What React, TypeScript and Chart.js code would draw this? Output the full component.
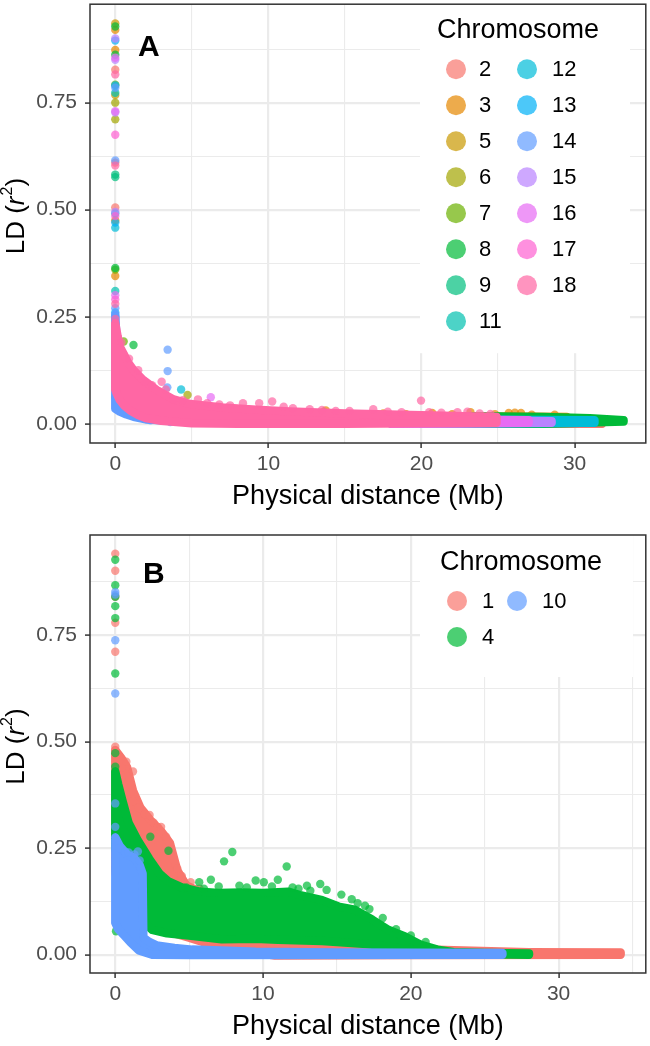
import React, { useEffect, useRef } from "react";
import { Chart, registerables } from "chart.js";
Chart.register(...registerables);

const FONT = "'Liberation Sans', Arial, Helvetica, sans-serif";
type Pt = [number, number];

// ---------------- Panel A ----------------
const A_LABELS = ["2", "3", "5", "6", "7", "8", "9", "11", "12", "13", "14", "15", "16", "17", "18"];
const A_COLORS = ["#F8766D", "#E58700", "#C99800", "#A3A500", "#6BB100", "#00BA38", "#00BF7D", "#00C0AF", "#00BCD8", "#00B0F6", "#619CFF", "#B983FF", "#E76BF3", "#FD61D1", "#FF67A4"];
const A_X_TICKS = [0, 5, 10, 15, 20, 25, 30];
const A_Y_TICKS = [0, 0.125, 0.25, 0.375, 0.5, 0.625, 0.75, 0.875];

const aPts2: Pt[] = [[0, 0.827], [0, 0.61], [0, 0.505]];
const aPts3: Pt[] = [[0, 0.92], [0, 0.873], [0, 0.475], [0, 0.345], [13.75, 0.031], [17.5, 0.024], [19.0, 0.022], [20.7, 0.025], [22.0, 0.022], [23.2, 0.027], [24.8, 0.022], [25.7, 0.025], [26.1, 0.026], [26.5, 0.025], [27.2, 0.021], [28.7, 0.021]];
const aPts5: Pt[] = [[0, 0.935], [0, 0.768], [13.6, 0.028]];
const aPts6: Pt[] = [[0, 0.75], [0, 0.711], [0, 0.062], [4.72, 0.067]];
const aPts7: Pt[] = [[0, 0.792], [0, 0.36], [0.55, 0.192]];
const aPts8: Pt[] = [[0, 0.928], [0, 0.862], [0, 0.364], [1.19, 0.184]];
const aPts9: Pt[] = [[0, 0.576], [0, 0.582]];
const aPts11: Pt[] = [[0, 0.773], [0, 0.31]];
const aPts12: Pt[] = [[0, 0.491], [0, 0.458], [4.3, 0.08]];
const aPts13: Pt[] = [[0, 0.895], [0, 0.79], [0, 0.47], [0, 0.26], [5.6, 0.003], [7.4, 0.002], [8.6, 0.002]];
const aPts14: Pt[] = [[0, 0.785], [0, 0.615], [0, 0.27], [0, 0.25], [3.42, 0.173], [3.42, 0.123], [3.4, 0.085], [2.3, 0.008], [3.6, 0.004]];
const aPts15: Pt[] = [[0, 0.9], [0, 0.85], [0, 0.727], [0, 0.495]];
const aPts16: Pt[] = [[0, 0.855], [0, 0.73], [0, 0.3], [6.24, 0.062]];
const aPts17: Pt[] = [[0, 0.675], [0, 0.485], [0, 0.29]];
const aPts18: Pt[] = [[0, 0.816], [0, 0.603], [0, 0.28], [0, 0.245], [0.4, 0.19], [0.9, 0.152], [1.5, 0.125], [1.95, 0.098], [2.4, 0.09], [3.03, 0.098], [3.3, 0.08], [3.8, 0.056], [4.4, 0.055], [5.4, 0.057], [6.0, 0.048], [6.8, 0.045], [7.5, 0.043], [8.34, 0.048], [9.4, 0.048], [10.25, 0.052], [11.0, 0.04], [11.6, 0.036], [12.7, 0.034], [13.5, 0.032], [14.4, 0.03], [15.3, 0.03], [16.85, 0.034], [17.8, 0.028], [18.7, 0.027], [19.97, 0.054], [20.5, 0.027], [21.3, 0.026], [22.35, 0.027], [23.0, 0.028], [23.8, 0.024], [24.5, 0.023]];

// dense clouds: outline of the saturated area (upper edge, then lower edge back)
const aCloud2: Pt[] = [[24, 0.006], [31.8, 0.004], [31.8, 0.0], [24, 0.0], [24, 0.006]];
const aCloud3: Pt[] = [[18, 0.018], [29.5, 0.016], [29.5, 0.004], [18, 0.004], [18, 0.018]];
const aCloud8: Pt[] = [[20, 0.016], [25, 0.017], [28, 0.016], [31, 0.013], [33.2, 0.008], [33.2, 0.005], [28, 0.0], [20, 0.0], [20, 0.016]];
const aCloud12: Pt[] = [[20, 0.01], [31.3, 0.008], [31.3, 0.002], [20, 0.0], [20, 0.01]];
const aCloud14: Pt[] = [[0, 0.255], [0.15, 0.15], [0.4, 0.09], [0.8, 0.06], [1.5, 0.045], [3, 0.025], [6, 0.01], [6, 0.004], [3, 0.008], [2, 0.01], [1.2, 0.016], [0.7, 0.022], [0.3, 0.028], [0, 0.035], [0, 0.255]];
const aCloud15: Pt[] = [[18, 0.01], [28.5, 0.006], [28.5, 0.002], [18, 0.0], [18, 0.01]];
const aCloud16: Pt[] = [[18, 0.011], [27, 0.008], [27, 0.002], [18, 0.0], [18, 0.011]];
const aCloud18: Pt[] = [[0, 0.235], [0.15, 0.205], [0.3, 0.18], [0.55, 0.163], [0.8, 0.145], [1.2, 0.125], [1.8, 0.103], [2.7, 0.079], [3.8, 0.057], [4.9, 0.046], [7.0, 0.038], [9.2, 0.033], [11.4, 0.029], [15, 0.024], [20, 0.02], [24.9, 0.016], [24.9, 0.002], [15, 0.0], [8, 0.0], [5, 0.001], [3, 0.007], [2, 0.013], [1.5, 0.02], [1.0, 0.03], [0.6, 0.042], [0.3, 0.055], [0.1, 0.07], [0, 0.08], [0, 0.235]];

const A_POINTS = [aPts2, aPts3, aPts5, aPts6, aPts7, aPts8, aPts9, aPts11, aPts12, aPts13, aPts14, aPts15, aPts16, aPts17, aPts18];
const A_CLOUDS = [aCloud2, aCloud3, null, null, null, aCloud8, null, null, aCloud12, null, aCloud14, aCloud15, aCloud16, null, aCloud18];

// ---------------- Panel B ----------------
const B_LABELS = ["1", "4", "10"];
const B_COLORS = ["#F8766D", "#00BA38", "#619CFF"];
const B_X_TICKS = [0, 5, 10, 15, 20, 25, 30, 35];
const B_Y_TICKS = [0, 0.125, 0.25, 0.375, 0.5, 0.625, 0.75, 0.875];

const bPts1: Pt[] = [[0, 0.941], [0, 0.901], [0, 0.84], [0, 0.779], [0, 0.711], [0, 0.488], [0, 0.48], [0.42, 0.44], [0.75, 0.453], [1.2, 0.43], [1.2, 0.36], [1.6, 0.345], [2.0, 0.33], [2.32, 0.328], [2.6, 0.31], [2.88, 0.3], [3.1, 0.3], [3.44, 0.277], [3.7, 0.26], [4.2, 0.202], [4.5, 0.185], [5.1, 0.17], [5.7, 0.155], [6.5, 0.028], [8.0, 0.024], [9.2, 0.026], [10.5, 0.022], [11.5, 0.02]];
const bPts4: Pt[] = [[0, 0.927], [0, 0.867], [0, 0.84], [0, 0.818], [0, 0.79], [0, 0.66], [0, 0.473], [0, 0.441], [0.05, 0.055], [2.37, 0.277], [3.6, 0.244], [4.8, 0.158], [5.68, 0.17], [6.0, 0.155], [6.47, 0.176], [7.0, 0.16], [7.36, 0.219], [7.92, 0.241], [8.4, 0.162], [8.9, 0.158], [9.5, 0.174], [10.05, 0.17], [10.6, 0.16], [11.0, 0.176], [11.6, 0.207], [12.0, 0.158], [12.4, 0.155], [12.97, 0.162], [13.2, 0.15], [13.87, 0.166], [14.3, 0.152], [15.3, 0.141], [16.0, 0.13], [16.4, 0.121], [16.9, 0.115], [17.2, 0.107], [18.1, 0.086], [19.0, 0.06], [20.0, 0.045], [21.0, 0.03]];
const bPts10: Pt[] = [[0, 0.851], [0, 0.845], [0, 0.738], [0, 0.613], [0, 0.355], [0, 0.3], [0.3, 0.25], [0.69, 0.241], [0.9, 0.24], [1.3, 0.235], [1.53, 0.242], [1.65, 0.221]];

const bCloud1: Pt[] = [[0, 0.48], [0.4, 0.462], [0.8, 0.44], [1.2, 0.385], [1.7, 0.345], [2.4, 0.315], [3.1, 0.29], [3.7, 0.262], [4.2, 0.198], [4.8, 0.163], [5.7, 0.148], [7, 0.14], [10, 0.12], [14, 0.1], [18, 0.05], [21, 0.012], [28, 0.006], [34.2, 0.005], [34.2, 0.0], [20, -0.001], [10.8, -0.002], [7, 0.018], [5, 0.04], [4, 0.05], [2, 0.07], [1, 0.09], [0.3, 0.12], [0, 0.2], [0, 0.48]];
const bCloud4: Pt[] = [[0, 0.43], [0.2, 0.4], [0.5, 0.36], [0.9, 0.31], [1.5, 0.27], [2.3, 0.225], [3.0, 0.19], [3.6, 0.172], [4.5, 0.158], [5.7, 0.148], [7, 0.145], [8.5, 0.146], [10, 0.145], [11.7, 0.148], [12.5, 0.14], [14, 0.128], [15.1, 0.113], [16.2, 0.106], [17.4, 0.082], [18.5, 0.058], [19.6, 0.043], [20.7, 0.023], [21.8, 0.012], [22.9, 0.006], [25, 0.004], [28, 0.003], [28, 0.0], [23, 0.002], [20, 0.012], [17, 0.025], [14, 0.032], [11, 0.035], [9.5, 0.037], [7.2, 0.036], [5, 0.045], [3.5, 0.05], [2.5, 0.058], [2.0, 0.075], [1.8, 0.1], [1.0, 0.15], [0.3, 0.2], [0, 0.25], [0, 0.43]];
const bCloud10: Pt[] = [[0, 0.275], [0.3, 0.255], [0.8, 0.235], [1.25, 0.228], [1.65, 0.21], [1.85, 0.19], [1.9, 0.04], [2.3, 0.03], [2.8, 0.022], [4, 0.016], [5.2, 0.012], [9.5, 0.007], [15, 0.005], [26.2, 0.004], [26.2, 0.0], [5, -0.001], [2.5, 0.0], [1.6, 0.01], [1.0, 0.03], [0.6, 0.045], [0.2, 0.06], [0, 0.075], [0, 0.275]];

const B_POINTS = [bPts1, bPts4, bPts10];
const B_CLOUDS = [bCloud1, bCloud4, bCloud10];

// ---------------- helpers ----------------
const PT_R = 4.2;

function rgba(hex: string, a: number) {
  const n = parseInt(hex.slice(1), 16);
  return `rgba(${(n >> 16) & 255},${(n >> 8) & 255},${n & 255},${a})`;
}

function buildDatasets(colors: string[], pts: Pt[][], clouds: (Pt[] | null)[]) {
  const list: any[] = [];
  colors.forEach((c, i) => {
    const cloud = clouds[i];
    if (cloud) {
      list.push({
        type: "line",
        data: cloud.map(([x, y]) => ({ x, y })),
        borderColor: c,
        backgroundColor: c,
        borderWidth: PT_R * 2,
        borderJoinStyle: "round",
        borderCapStyle: "round",
        fill: "shape",
        pointRadius: 0,
        pointHoverRadius: 0,
        tension: 0,
      });
    }
    list.push({
      type: "scatter",
      data: pts[i].map(([x, y]) => ({ x, y })),
      pointRadius: PT_R,
      pointHoverRadius: PT_R,
      pointBackgroundColor: rgba(c, 0.7),
      backgroundColor: rgba(c, 0.7),
      pointBorderWidth: 0,
      borderWidth: 0,
      showLine: false,
    });
  });
  return list.reverse();
}

const isMul = (v: number, step: number) => Math.abs(v / step - Math.round(v / step)) < 1e-6;

function makeScales(xr: number[], yr: number[], xTicks: number[], yTicks: number[], xHeight: number) {
  const tickFont = { family: FONT, size: 21 };
  return {
    x: {
      type: "linear",
      min: xr[0],
      max: xr[1],
      afterBuildTicks: (s: any) => { s.ticks = xTicks.map((v) => ({ value: v })); },
      afterFit: (s: any) => { s.height = xHeight; s.paddingLeft = 0; s.paddingRight = 0; s.paddingTop = 0; s.paddingBottom = 0; },
      border: { display: false },
      grid: {
        color: "#EBEBEB",
        lineWidth: (c: any) => (c.tick && isMul(c.tick.value, 10) ? 2.2 : 1.1),
        tickLength: 5,
        tickWidth: 1.5,
        tickColor: (c: any) => (c.tick && isMul(c.tick.value, 10) ? "#333333" : "rgba(0,0,0,0)"),
      },
      ticks: {
        autoSkip: false,
        maxRotation: 0,
        padding: 4,
        color: "#4D4D4D",
        font: tickFont,
        callback: (v: number) => (isMul(v, 10) ? String(v) : ""),
      },
    },
    y: {
      type: "linear",
      min: yr[0],
      max: yr[1],
      afterBuildTicks: (s: any) => { s.ticks = yTicks.map((v) => ({ value: v })); },
      afterFit: (s: any) => { s.width = 90; s.paddingTop = 0; s.paddingBottom = 0; s.paddingLeft = 0; s.paddingRight = 0; },
      border: { display: false },
      grid: {
        color: "#EBEBEB",
        lineWidth: (c: any) => (c.tick && isMul(c.tick.value, 0.25) ? 2.2 : 1.1),
        tickLength: 5,
        tickWidth: 1.5,
        tickColor: (c: any) => (c.tick && isMul(c.tick.value, 0.25) ? "#333333" : "rgba(0,0,0,0)"),
      },
      ticks: {
        autoSkip: false,
        padding: 8,
        color: "#4D4D4D",
        font: tickFont,
        callback: (v: number) => (isMul(v, 0.25) ? v.toFixed(2) : ""),
      },
    },
  };
}

type LegendCfg = { box: number[]; titleX: number; titleY: number; colX: number[]; labX: number[]; rowY0: number; rowStep: number };

function makeDecor(letter: string, letterPos: number[], labels: string[], colors: string[], L: LegendCfg) {
  return {
    id: "decor" + letter,
    afterDatasetsDraw(chart: any) {
      const { ctx, chartArea: ca } = chart;
      ctx.save();
      ctx.fillStyle = "#FFFFFF";
      ctx.fillRect(ca.left + L.box[0], ca.top + L.box[1], L.box[2] - L.box[0], L.box[3] - L.box[1]);
      ctx.fillStyle = "#000000";
      ctx.textBaseline = "middle";
      ctx.textAlign = "left";
      ctx.font = `27px ${FONT}`;
      ctx.fillText("Chromosome", ca.left + L.titleX, ca.top + L.titleY);
      const rows = Math.ceil(labels.length / 2);
      labels.forEach((lab, i) => {
        const col = Math.floor(i / rows);
        const row = i % rows;
        const cy = ca.top + L.rowY0 + row * L.rowStep;
        ctx.beginPath();
        ctx.arc(ca.left + L.colX[col], cy, 10, 0, Math.PI * 2);
        ctx.fillStyle = rgba(colors[i], 0.7);
        ctx.fill();
        ctx.fillStyle = "#000000";
        ctx.font = `22px ${FONT}`;
        ctx.fillText(lab, ca.left + L.labX[col], cy + 1);
      });
      ctx.restore();
    },
    afterDraw(chart: any) {
      const { ctx, chartArea: ca } = chart;
      ctx.save();
      ctx.strokeStyle = "#333333";
      ctx.lineWidth = 1.5;
      ctx.strokeRect(ca.left, ca.top, ca.right - ca.left, ca.bottom - ca.top);
      // panel letter
      ctx.fillStyle = "#000000";
      ctx.font = `bold 30px ${FONT}`;
      ctx.textAlign = "left";
      ctx.textBaseline = "alphabetic";
      ctx.fillText(letter, ca.left + letterPos[0], ca.top + letterPos[1]);
      // x title
      ctx.font = `27px ${FONT}`;
      ctx.textAlign = "center";
      ctx.textBaseline = "middle";
      ctx.fillText("Physical distance (Mb)", (ca.left + ca.right) / 2, ca.bottom + 54);
      // y title: LD (r^2)
      ctx.translate(17, (ca.top + ca.bottom) / 2 - 7);
      ctx.rotate(-Math.PI / 2);
      ctx.textAlign = "left";
      const parts = [
        { t: "LD (", f: `26px ${FONT}`, dy: 0 },
        { t: "r", f: `italic 26px ${FONT}`, dy: 0 },
        { t: "2", f: `16px ${FONT}`, dy: -9 },
        { t: ")", f: `26px ${FONT}`, dy: 0 },
      ];
      let total = 0;
      parts.forEach((p) => { ctx.font = p.f; total += ctx.measureText(p.t).width; });
      let x = -total / 2;
      parts.forEach((p) => {
        ctx.font = p.f;
        ctx.fillText(p.t, x, p.dy);
        x += ctx.measureText(p.t).width + (p.t === "r" ? 1 : 0);
      });
      ctx.restore();
    },
  };
}

function Panel(props: { top: number; height: number; padTop: number; xHeight: number; xr: number[]; yr: number[]; xTicks: number[]; yTicks: number[]; labels: string[]; colors: string[]; pts: Pt[][]; clouds: (Pt[] | null)[]; letter: string; letterPos: number[]; legend: LegendCfg }) {
  const ref = useRef<HTMLCanvasElement | null>(null);
  useEffect(() => {
    if (!ref.current) return;
    const chart = new Chart(ref.current, {
      type: "scatter",
      data: { datasets: buildDatasets(props.colors, props.pts, props.clouds) },
      options: {
        animation: false,
        responsive: false,
        maintainAspectRatio: false,
        events: [],
        layout: { padding: { top: props.padTop, right: 2, left: 0, bottom: 0 } },
        plugins: { legend: { display: false }, tooltip: { enabled: false }, title: { display: false } },
        scales: makeScales(props.xr, props.yr, props.xTicks, props.yTicks, props.xHeight) as any,
      },
      plugins: [makeDecor(props.letter, props.letterPos, props.labels, props.colors, props.legend)],
    } as any);
    return () => chart.destroy();
  }, []);
  return (
    <div style={{ position: "absolute", left: 0, top: props.top, width: 650, height: props.height }}>
      <canvas ref={ref} width={650} height={props.height} style={{ width: 650, height: props.height, display: "block" }} />
    </div>
  );
}

export default function App() {
  return (
    <div style={{ position: "absolute", left: 0, top: 0, width: 650, height: 1046, background: "#FFFFFF" }}>
      <Panel
        top={0}
        height={515}
        padTop={1}
        xHeight={72}
        xr={[-1.65, 34.65]}
        yr={[-0.045, 0.98]}
        xTicks={A_X_TICKS}
        yTicks={A_Y_TICKS}
        labels={A_LABELS}
        colors={A_COLORS}
        pts={A_POINTS}
        clouds={A_CLOUDS}
        letter="A"
        letterPos={[48, 52]}
        legend={{ box: [330, 0, 540, 349], titleX: 347, titleY: 26, colX: [366, 437], labX: [389, 462], rowY0: 65, rowStep: 36 }}
      />
      <Panel
        top={520}
        height={526}
        padTop={15}
        xHeight={73}
        xr={[-1.71, 35.9]}
        yr={[-0.043, 0.985]}
        xTicks={B_X_TICKS}
        yTicks={B_Y_TICKS}
        labels={B_LABELS}
        colors={B_COLORS}
        pts={B_POINTS}
        clouds={B_CLOUDS}
        letter="B"
        letterPos={[53, 48]}
        legend={{ box: [330, 0, 543, 142], titleX: 350, titleY: 28, colX: [367, 427], labX: [392, 452], rowY0: 66, rowStep: 36 }}
      />
    </div>
  );
}
